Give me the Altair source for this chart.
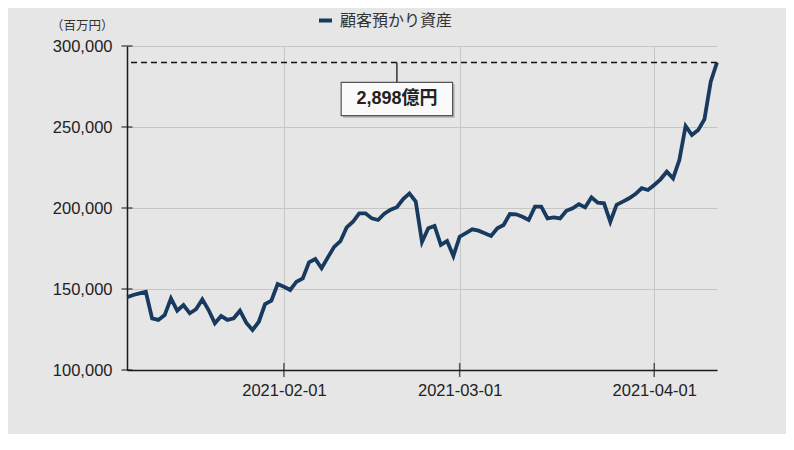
import altair as alt
import pandas as pd

# ---- data (百万円) ----
start_date = "2021-01-07"
values = [
    144900, 146300, 147300, 148300, 131900, 130900, 133900, 144200, 136600, 140100,
    135000, 137500, 143600, 137000, 128800, 133300, 130900, 131900, 136600, 129200,
    124700, 129800, 140700, 142800, 153100, 151400, 149400, 154500, 156500, 166500,
    168500, 162800, 169500, 176000, 179500, 188000, 191500, 196700, 196700, 193600,
    192600, 196500, 199000, 200500, 205500, 209000, 204000, 179000, 187500, 188900,
    177200, 179600, 170400, 182300, 184500, 186800, 186000, 184400, 182700, 187500,
    189500, 196300, 196100, 194600, 192600, 200800, 200800, 193600, 194200, 193600,
    198300, 199800, 202300, 200400, 206600, 203300, 202900, 191500, 201900, 203900,
    206000, 208600, 212200, 211100, 214200, 217700, 222400, 218300, 229600, 250600,
    245000, 248100, 254800, 278000, 289800,
]
dates = pd.date_range(start_date, periods=len(values), freq="D").strftime("%Y-%m-%d").tolist()
series_name = "顧客預かり資産"

y_ticks = [100000, 150000, 200000, 250000, 300000]
x_ticks = ["2021-02-01", "2021-03-01", "2021-04-01"]

ref_value = 289800
ref_label = "2,898億円"
anno_x = "2021-02-19"
box_x = ["2021-02-10T03:00:00Z", "2021-02-27T21:00:00Z"]
box_y = [257000, 277600]
label_y = 267300

LINE_COLOR = "#173a5e"
BG = "#e6e6e6"
NUM_FONT = "Liberation Sans"
JP_FONT = "Noto Sans CJK JP"

df = pd.DataFrame({"date": dates, "value": values, "series": series_name})

x_scale = alt.Scale(
    type="utc",
    domain=[alt.DateTime(year=2021, month=1, date=7, utc=True),
            alt.DateTime(year=2021, month=4, date=11, utc=True)],
)
y_scale = alt.Scale(domain=[100000, 300000], nice=False, zero=False)

x_axis = alt.Axis(
    title=None, format="%Y-%m-%d", tickCount={"interval": "month", "step": 1},
    ticks=False, tickSize=0, labelPadding=12, labelFont=NUM_FONT, labelFontSize=16.5,
    labelColor="#222", grid=True, gridColor="#c6c6c6", gridWidth=1,
    domainColor="#1a1a1a", domainWidth=1.5, labelFlush=False,
)
y_axis = alt.Axis(
    values=y_ticks, format=",.0f", ticks=False, tickSize=0, labelPadding=15,
    labelFont=NUM_FONT, labelFontSize=16.5, labelColor="#222",
    grid=True, gridColor="#c6c6c6", gridWidth=1,
    domainColor="#1a1a1a", domainWidth=1.5,
    title="（百万円）", titleAngle=0, titleAlign="right", titleBaseline="middle",
    titleX=-14, titleY=-21, titleFont=JP_FONT, titleFontSize=12.5,
    titleFontWeight="normal", titleColor="#333",
)

def X(field="date"):
    return alt.X(f"{field}:T", scale=x_scale, axis=x_axis)

def Y(field="value"):
    return alt.Y(f"{field}:Q", scale=y_scale, axis=y_axis)

line = alt.Chart(df).mark_line(strokeWidth=3.8).encode(
    x=X(), y=Y(),
    color=alt.Color(
        "series:N", scale=alt.Scale(range=[LINE_COLOR]),
        legend=alt.Legend(
            title=None, orient="none", legendX=190, legendY=-34, padding=0,
            symbolType="stroke", symbolStrokeWidth=4, symbolSize=169,
            labelFont=JP_FONT, labelFontSize=16, labelColor="#333", labelOffset=6,
        ),
    ),
)

ytick_df = pd.DataFrame({"value": y_ticks})
ytick_marks = alt.Chart(ytick_df).mark_tick(
    orient="horizontal", size=11, thickness=1.5, color="#1a1a1a"
).encode(y=Y(), x=alt.value(0))

xtick_df = pd.DataFrame({"date": x_ticks})
xtick_marks = alt.Chart(xtick_df).mark_tick(
    orient="vertical", size=14, thickness=1.5, color="#1a1a1a"
).encode(x=X(), y=alt.value(324))

ref_df = pd.DataFrame({"value": [ref_value]})
ref_rule = alt.Chart(ref_df).mark_rule(
    color="#111", strokeWidth=1.6, strokeDash=[6, 4]
).encode(y=Y())

conn_df = pd.DataFrame({"date": [anno_x], "value": [ref_value], "value2": [box_y[1]]})
connector = alt.Chart(conn_df).mark_rule(color="#333", strokeWidth=1.5).encode(
    x=X(), y=Y(), y2="value2:Q"
)

box_df = pd.DataFrame({"date": [box_x[0]], "date2": [box_x[1]],
                       "value": [box_y[0]], "value2": [box_y[1]]})
shadow = alt.Chart(box_df).mark_rect(
    color="#8a8a8a", opacity=0.55, xOffset=2, x2Offset=2, yOffset=2, y2Offset=2
).encode(x=X(), x2="date2:T", y=Y(), y2="value2:Q")
box = alt.Chart(box_df).mark_rect(
    fill="#fafafa", stroke="#555", strokeWidth=1.2
).encode(x=X(), x2="date2:T", y=Y(), y2="value2:Q")

label_df = pd.DataFrame({"date": [anno_x], "value": [label_y], "label": [ref_label]})
label = alt.Chart(label_df).mark_text(
    font=f"{NUM_FONT}, {JP_FONT}", fontSize=18, fontWeight="bold", color="#222",
    align="center", baseline="middle",
).encode(x=X(), y=Y(), text="label:N")

chart = alt.layer(
    line, ref_rule, connector, shadow, box, label, ytick_marks, xtick_marks
).properties(
    width=590, height=324,
    autosize=alt.AutoSizeParams(type="none"),
    padding={"left": 119, "top": 38, "right": 69, "bottom": 64},
    background=BG,
).configure_view(stroke=None)

chart.save("out.html", embed_options={"renderer": "svg", "actions": False})
